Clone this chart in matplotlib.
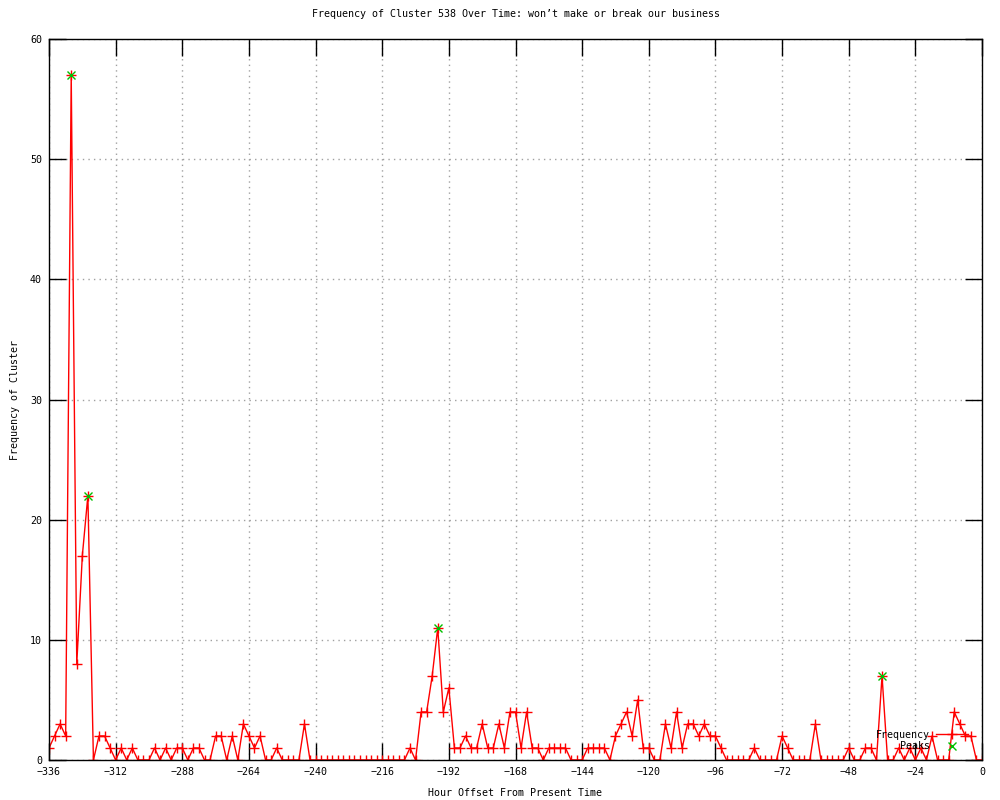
import numpy as np
import matplotlib
matplotlib.use("Agg")
import matplotlib.pyplot as plt

# hour offsets, one sample every 2 hours
hours = list(range(-336, 1, 2))
freq = [
    1, 2, 3, 2, 57, 8, 17, 22, 0, 2,            # -336 .. -318
    2, 1, 0, 1, 0, 1, 0, 0, 0, 1,               # -316 .. -298
    0, 1, 0, 1, 1, 0, 1, 1, 0, 0,               # -296 .. -278
    2, 2, 0, 2, 0, 3, 2, 1, 2, 0,               # -276 .. -258
    0, 1, 0, 0, 0, 0, 3, 0, 0, 0,               # -256 .. -238
    0, 0, 0, 0, 0, 0, 0, 0, 0, 0,               # -236 .. -218
    0, 0, 0, 0, 0, 1, 0, 4, 4, 7,               # -216 .. -198
    11, 4, 6, 1, 1, 2, 1, 1, 3, 1,              # -196 .. -178
    1, 3, 1, 4, 4, 1, 4, 1, 1, 0,               # -176 .. -158
    1, 1, 1, 1, 0, 0, 0, 1, 1, 1,               # -156 .. -138
    1, 0, 2, 3, 4, 2, 5, 1, 1, 0,               # -136 .. -118
    0, 3, 1, 4, 1, 3, 3, 2, 3, 2,               # -116 .. -98
    2, 1, 0, 0, 0, 0, 0, 1, 0, 0,               # -96 .. -78
    0, 0, 2, 1, 0, 0, 0, 0, 3, 0,               # -76 .. -58
    0, 0, 0, 0, 1, 0, 0, 1, 1, 0,               # -56 .. -38
    7, 0, 0, 1, 0, 1, 0, 1, 0, 2,               # -36 .. -18
    0, 0, 0, 4, 3, 2, 2, 0, 0,                  # -16 .. 0
]
peak_hours = [-328, -322, -196, -36]
peak_vals = [57, 22, 11, 7]

plt.rcParams['font.family'] = ['DejaVu Sans Mono']
plt.rcParams['font.size'] = 7.2

fig = plt.figure(figsize=(10, 8), dpi=100)
ax = fig.add_axes([0.049, 0.05, 0.933, 0.901])

ax.plot(hours, freq, color='#ff0000', lw=1, marker='+', ms=6.5, mew=1,
        label='Frequency')
ax.plot(peak_hours, peak_vals, ls='none', color='#00c000', marker='x',
        ms=6, mew=1, label='Peaks')

ax.set_xlim(-336, 0)
ax.set_ylim(0, 60)
ax.set_xticks(range(-336, 1, 24))
ax.set_yticks(range(0, 61, 10))
ax.grid(True, color='#a0a0a0', ls=(0, (1, 3)), lw=1)
ax.tick_params(direction='in', length=12, width=1, top=True, right=True,
               labelsize=7.2, pad=5)
for s in ax.spines.values():
    s.set_linewidth(1)

ax.set_title("Frequency of Cluster 538 Over Time: won’t make or break our business",
             fontsize=7.2, pad=16)
ax.set_xlabel("Hour Offset From Present Time", labelpad=8)
ax.set_ylabel("Frequency of Cluster", labelpad=7)

ax.legend(loc='lower right', bbox_to_anchor=(0.973, 0.055),
          bbox_transform=fig.transFigure, frameon=False, markerfirst=False,
          handlelength=3.2, handletextpad=0.6, labelspacing=0.15,
          numpoints=1, fontsize=7.2, borderpad=0)

plt.savefig('out.png', dpi=100)
plt.close()
